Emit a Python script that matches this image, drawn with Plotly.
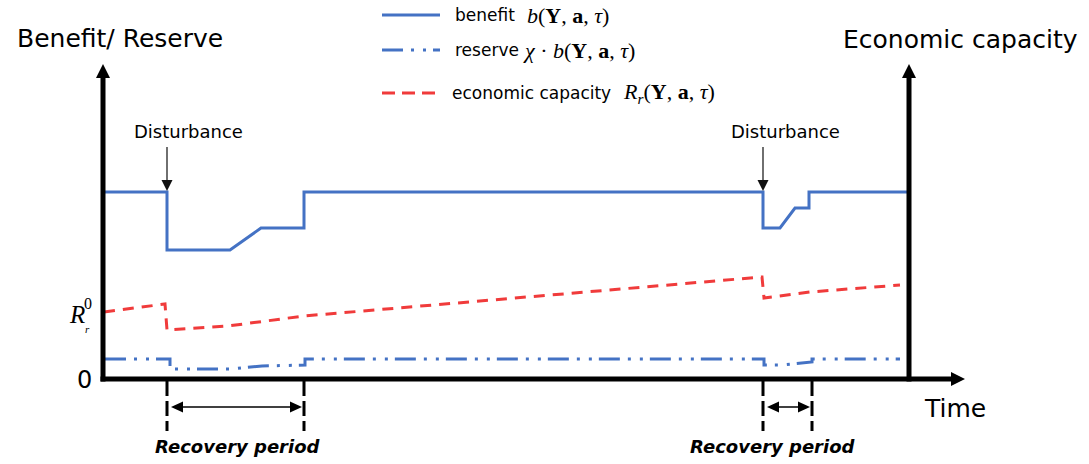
import plotly.graph_objects as go

W, H = 1089, 464
OX, OY = 103, 379     # page-pixel position of the diagram origin (time 0, value 0)

# ---------------- data (time units, value units) ----------------
benefit_t = [2, 64, 64, 127, 158, 201, 201, 660, 660, 677, 692, 706, 706, 804]
benefit_v = [187, 187, 129, 129, 151, 151, 187, 187, 151, 151, 171, 171, 187, 187]

reserve_t = [2, 67, 67, 127, 159, 202, 202, 661, 661, 680, 709, 709, 797]
reserve_v = [20, 20, 10, 10, 13, 14, 20, 20, 14, 14, 17, 20, 20]

capacity_t = [1, 62, 64, 125, 201, 659, 661, 707, 797]
capacity_v = [67, 75, 49, 53, 63, 102, 81, 87, 94]

disturbance_t = [64, 660]
recovery_end_t = [201, 709]
disturbance_labels = ["Disturbance", "Disturbance"]
recovery_labels = ["Recovery period", "Recovery period"]

T_RIGHT_AXIS = 806
T_ARROW_TIP = 862
V_ARROW_TIP = 315

BLUE = "#4472c4"
RED = "#f03b3b"
SANS = "DejaVu Sans"
SERIF = "Liberation Serif"
RESERVE_DASH = "21px,8px,3px,9px,3px,7px"
CAP_DASH = "11px,8px"


def T(px):
    return px - OX


def V(py):
    return OY - py


fig = go.Figure()
fig.add_trace(go.Scatter(x=benefit_t, y=benefit_v, mode="lines",
                         line=dict(color=BLUE, width=3), hoverinfo="skip"))
fig.add_trace(go.Scatter(x=reserve_t, y=reserve_v, mode="lines",
                         line=dict(color=BLUE, width=3, dash=RESERVE_DASH), hoverinfo="skip"))
fig.add_trace(go.Scatter(x=capacity_t, y=capacity_v, mode="lines",
                         line=dict(color=RED, width=3, dash=CAP_DASH), hoverinfo="skip"))

shapes = []
ann = []
K = "black"


def tri(p1, p2, p3, color=K):
    return dict(type="path",
                path=f"M {p1[0]},{p1[1]} L {p2[0]},{p2[1]} L {p3[0]},{p3[1]} Z",
                fillcolor=color, line=dict(color=color, width=0))


# axes shafts
shapes.append(dict(type="line", x0=0, x1=0, y0=-2.5, y1=V_ARROW_TIP - 13, line=dict(color=K, width=5)))
shapes.append(dict(type="line", x0=T_RIGHT_AXIS, x1=T_RIGHT_AXIS, y0=-2.5, y1=V_ARROW_TIP - 13,
                   line=dict(color=K, width=5)))
shapes.append(dict(type="line", x0=-2.5, x1=T_ARROW_TIP - 12, y0=0, y1=0, line=dict(color=K, width=5)))
# arrow heads
for xa in (0, T_RIGHT_AXIS):
    shapes.append(tri((xa - 7, V_ARROW_TIP - 14), (xa + 7, V_ARROW_TIP - 14), (xa, V_ARROW_TIP)))
shapes.append(tri((T_ARROW_TIP - 14, -7), (T_ARROW_TIP - 14, 7), (T_ARROW_TIP, 0)))

# recovery dashed verticals, double arrows, labels
rec_label_t = [135, 670]
ya = -28
for d, r, lab, lt in zip(disturbance_t, recovery_end_t, recovery_labels, rec_label_t):
    for xx in (d, r):
        shapes.append(dict(type="line", x0=xx, x1=xx, y0=-2, y1=-52,
                           line=dict(color=K, width=3, dash="15px,5px")))
    a0, a1 = d + 4, r - 2
    shapes.append(dict(type="line", x0=a0 + 8, x1=a1 - 8, y0=ya, y1=ya, line=dict(color=K, width=1.5)))
    shapes.append(tri((a0, ya), (a0 + 12, ya + 5.5), (a0 + 12, ya - 5.5)))
    shapes.append(tri((a1, ya), (a1 - 12, ya + 5.5), (a1 - 12, ya - 5.5)))
    ann.append(dict(x=lt, y=V(446), xref="x", yref="y", showarrow=False,
                    text=f"<b><i>{lab}</i></b>", font=dict(family=SANS, size=18, color=K)))

# disturbance arrows
dist_label_t = [85, 682]
for d, lab, lt in zip(disturbance_t, disturbance_labels, dist_label_t):
    tip = V(191)
    shapes.append(dict(type="line", x0=d, x1=d, y0=V(147), y1=tip + 8,
                       line=dict(color="#222", width=1.3)))
    shapes.append(tri((d, tip), (d - 5.5, tip + 11), (d + 5.5, tip + 11), color="#111"))
    ann.append(dict(x=lt, y=V(131), xref="x", yref="y", showarrow=False, text=lab,
                    font=dict(family=SANS, size=18, color=K)))

# axis titles
ann.append(dict(x=T(120), y=V(38), xref="x", yref="y", showarrow=False, text="Benefit/ Reserve",
                font=dict(family=SANS, size=25, color=K)))
ann.append(dict(x=T(960), y=V(39), xref="x", yref="y", showarrow=False, text="Economic capacity",
                font=dict(family=SANS, size=25, color=K)))
ann.append(dict(x=T(955), y=V(408), xref="x", yref="y", showarrow=False, text="Time",
                font=dict(family=SANS, size=25, color=K)))
ann.append(dict(x=T(84), y=V(380), xref="x", yref="y", showarrow=False, text="0",
                font=dict(family=SANS, size=24, color=K)))
# R_r^0
ann.append(dict(x=T(77), y=V(314), xref="x", yref="y", showarrow=False, text="<i>R</i>",
                font=dict(family=SERIF, size=25, color=K)))
ann.append(dict(x=T(88), y=V(303), xref="x", yref="y", showarrow=False, text="0",
                font=dict(family=SERIF, size=16, color=K)))
ann.append(dict(x=T(87), y=V(329), xref="x", yref="y", showarrow=False, text="<i>r</i>",
                font=dict(family=SERIF, size=11, color=K)))

# legend (drawn manually)
leg_rows = [
    (15, dict(color=BLUE, width=3), "benefit", 453,
     "<i>b</i>(<b>Y</b>, <b>a</b>, <i>τ</i>)", 526),
    (50, dict(color=BLUE, width=3, dash=RESERVE_DASH), "reserve", 453,
     "<i>χ</i> · <i>b</i>(<b>Y</b>, <b>a</b>, <i>τ</i>)", 522),
    (93, dict(color=RED, width=3, dash="13px,7px"), "economic capacity", 450,
     "<i>R<sub>r</sub></i>(<b>Y</b>, <b>a</b>, <i>τ</i>)", 622),
]
for py, ln, lab, lx, math, mx in leg_rows:
    shapes.append(dict(type="line", x0=T(382), x1=T(440), y0=V(py), y1=V(py), line=ln))
    ann.append(dict(x=T(lx), y=V(py), xref="x", yref="y", showarrow=False, text=lab,
                    xanchor="left", font=dict(family=SANS, size=17, color=K)))
    ann.append(dict(x=T(mx), y=V(py), xref="x", yref="y", showarrow=False, text=math,
                    xanchor="left", borderpad=0, font=dict(family=SERIF, size=22, color=K)))

fig.update_layout(
    width=W, height=H, autosize=False,
    margin=dict(l=0, r=0, t=0, b=0, pad=0),
    paper_bgcolor="white", plot_bgcolor="white",
    showlegend=False,
    xaxis=dict(range=[-OX, W - OX], visible=False, fixedrange=True),
    yaxis=dict(range=[OY - H, OY], visible=False, fixedrange=True),
    shapes=shapes, annotations=ann,
)
fig.write_html("out.html", config={"displayModeBar": False, "staticPlot": True},
               post_script="document.body.style.margin='0';document.body.style.overflow='hidden';")
